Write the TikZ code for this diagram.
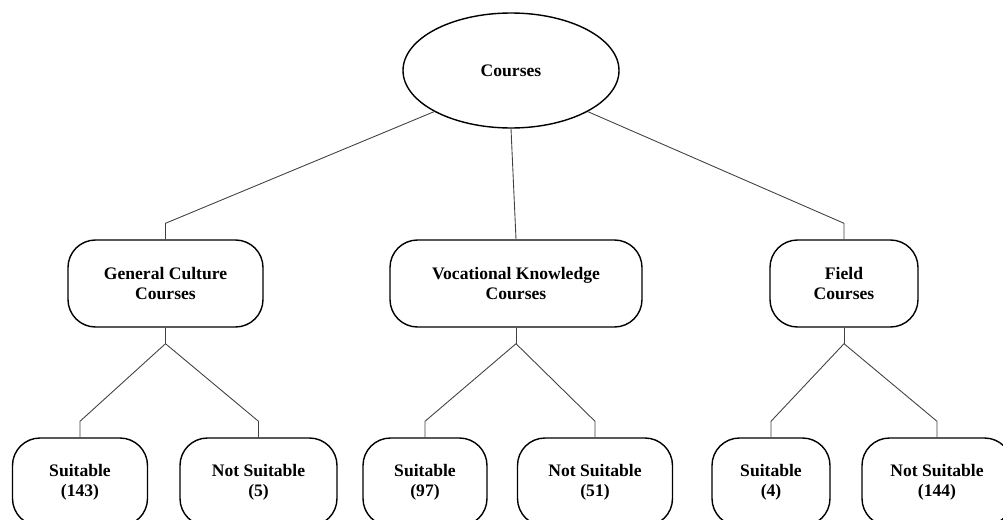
\documentclass[tikz,border=0pt]{standalone}
\usepackage{fontspec}
\setmainfont{Liberation Serif}
\usepackage{tikz}
\usetikzlibrary{calc}
\usetikzlibrary{shapes.geometric}
\usetikzlibrary{positioning}

\tikzset{
  rootnode/.style={ellipse,draw=black,line width=0.8pt,minimum width=4.32cm,minimum height=2.3cm,font=\bfseries\fontsize{10}{11.5}\selectfont},
  coursebox/.style={rectangle,rounded corners=0.55cm,draw=black,line width=0.8pt,minimum height=1.74cm,align=center,font=\bfseries\fontsize{10}{11.5}\selectfont},
  leafbox/.style={rectangle,rounded corners=0.55cm,draw=black,line width=0.8pt,minimum height=1.76cm,align=center,font=\bfseries\fontsize{10}{11.5}\selectfont},
  branch/.style={draw=black!75,line width=0.5pt}
}

\begin{document}
\begin{tikzpicture}

\coordinate (LEFTCORNER) at (0,0);
\useasboundingbox (LEFTCORNER) rectangle ++(20.06,10.38);

% draw root
\node[rootnode] at ($(LEFTCORNER)+(10.22,8.97)$) (COURSES) {Courses};

%%%%%%%%%%%%%%%%%%%
% draw course groups
\node[coursebox,minimum width=3.9cm] at ($(LEFTCORNER)+(3.31,4.71)$) (GENCULT) {General Culture\\Courses};
\node[coursebox,minimum width=5.04cm] at ($(LEFTCORNER)+(10.32,4.71)$) (VOCKNOW) {Vocational Knowledge\\Courses};
\node[coursebox,minimum width=2.96cm] at ($(LEFTCORNER)+(16.88,4.71)$) (FIELD) {Field\\Courses};

%%%%%%%%%%%%%%%%%%%
% draw leaves
\node[leafbox,minimum width=2.7cm] at ($(LEFTCORNER)+(1.6,0.74)$) (GCSUIT) {Suitable\\(143)};
\node[leafbox,minimum width=3.14cm] at ($(LEFTCORNER)+(5.17,0.74)$) (GCNOT) {Not Suitable\\(5)};
\node[leafbox,minimum width=2.48cm] at ($(LEFTCORNER)+(8.5,0.74)$) (VKSUIT) {Suitable\\(97)};
\node[leafbox,minimum width=3.1cm] at ($(LEFTCORNER)+(11.9,0.74)$) (VKNOT) {Not Suitable\\(51)};
\node[leafbox,minimum width=2.36cm] at ($(LEFTCORNER)+(15.42,0.74)$) (FSUIT) {Suitable\\(4)};
\node[leafbox,minimum width=3.0cm] at ($(LEFTCORNER)+(18.74,0.74)$) (FNOT) {Not Suitable\\(144)};

%%%%%%%%%%%%%%%%%%%
% draw branches
\draw[branch] (COURSES.south west) -- ($(GENCULT.north)+(0,0.32)$) -- (GENCULT.north);
\draw[branch] (COURSES.south) -- (VOCKNOW.north);
\draw[branch] (COURSES.south east) -- ($(FIELD.north)+(0,0.32)$) -- (FIELD.north);

\draw[branch] (GENCULT.south) -- ++(0,-0.32) coordinate (GCSPLIT);
\draw[branch] (GCSPLIT) -- ($(GCSUIT.north)+(0,0.32)$) -- (GCSUIT.north);
\draw[branch] (GCSPLIT) -- ($(GCNOT.north)+(0,0.32)$) -- (GCNOT.north);

\draw[branch] (VOCKNOW.south) -- ++(0,-0.32) coordinate (VKSPLIT);
\draw[branch] (VKSPLIT) -- ($(VKSUIT.north)+(0,0.32)$) -- (VKSUIT.north);
\draw[branch] (VKSPLIT) -- ($(VKNOT.north)+(0,0.32)$) -- (VKNOT.north);

\draw[branch] (FIELD.south) -- ++(0,-0.32) coordinate (FSPLIT);
\draw[branch] (FSPLIT) -- ($(FSUIT.north)+(0,0.32)$) -- (FSUIT.north);
\draw[branch] (FSPLIT) -- ($(FNOT.north)+(0,0.32)$) -- (FNOT.north);

\end{tikzpicture}
\end{document}
